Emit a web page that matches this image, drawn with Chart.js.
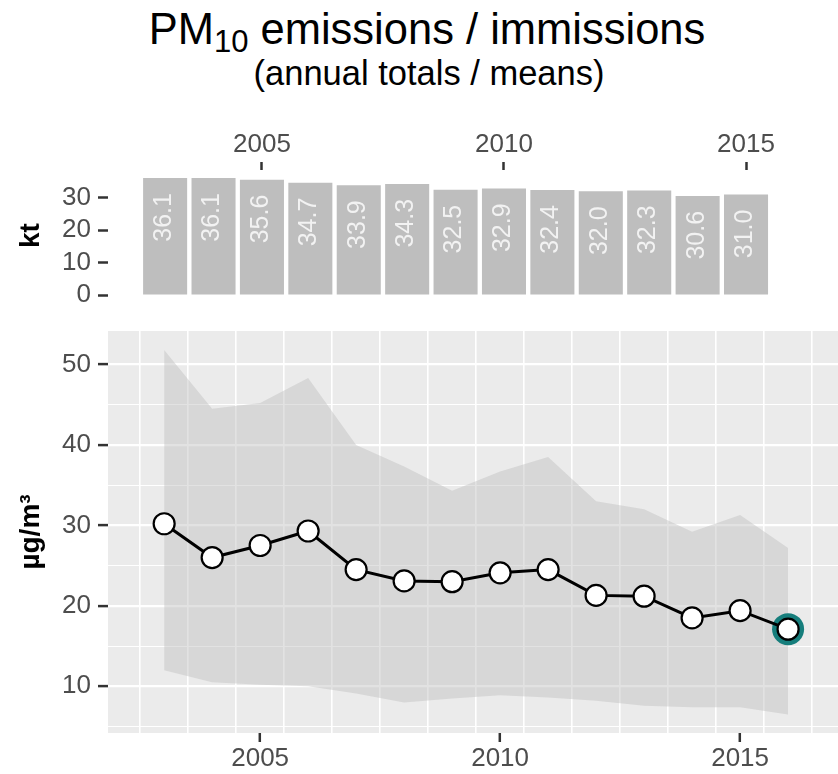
<!DOCTYPE html>
<html>
<head>
<meta charset="utf-8">
<title>PM10 emissions / immissions</title>
<script src="https://cdn.jsdelivr.net/npm/chart.js@4.4.1/dist/chart.umd.min.js"></script>
<style>
  html, body { margin: 0; padding: 0; background: #fff; overflow: hidden; }
  body { width: 838px; height: 774px; position: relative; font-family: 'Liberation Sans', Arial, Helvetica, sans-serif; }
  #title { position: absolute; left: 8px; top: 8px; width: 838px; text-align: center; font-size: 43.5px; line-height: 1; color: #000; white-space: nowrap; }
  #title sub { font-size: 31px; vertical-align: baseline; position: relative; top: 8px; }
  #subtitle { position: absolute; left: 10px; top: 56px; width: 838px; text-align: center; font-size: 34.5px; line-height: 34px; color: #000; white-space: nowrap; }
  canvas { position: absolute; left: 0; }
  #emis { top: 110px; }
  #imm { top: 300px; }
</style>
</head>
<body>
<div id="title">PM<sub>10</sub> emissions / immissions</div>
<div id="subtitle">(annual totals / means)</div>
<canvas id="emis" width="838" height="200"></canvas>
<canvas id="imm" width="838" height="474"></canvas>
<script>
const FONT = "'Liberation Sans', Arial, Helvetica, sans-serif";
const TICK_TEXT = '#4D4D4D';
const TICK_MARK = '#333333';

// emissions, annual totals (kt)
const emisYears = [2003, 2004, 2005, 2006, 2007, 2008, 2009, 2010, 2011, 2012, 2013, 2014, 2015];
const emisValues = [36.1, 36.1, 35.6, 34.7, 33.9, 34.3, 32.5, 32.9, 32.4, 32.0, 32.3, 30.6, 31.0];

// immissions, annual means (µg/m³) with station min / max
const immYears = [2003, 2004, 2005, 2006, 2007, 2008, 2009, 2010, 2011, 2012, 2013, 2014, 2015, 2016];
const immMean = [30.2, 26.0, 27.5, 29.3, 24.5, 23.1, 23.0, 24.1, 24.5, 21.3, 21.2, 18.5, 19.4, 17.1];
const immMax = [51.8, 44.5, 45.2, 48.3, 40.0, 37.3, 34.3, 36.7, 38.5, 33.0, 32.0, 29.2, 31.3, 27.2];
const immMin = [12.0, 10.5, 10.2, 10.0, 9.1, 8.0, 8.5, 8.9, 8.6, 8.2, 7.6, 7.4, 7.4, 6.5];

// axis ticks
const yearTicks = [2005, 2010, 2015];
const ktTicks = [0, 10, 20, 30];
const concTicks = [5, 10, 15, 20, 25, 30, 35, 40, 45, 50];
const yearGrid = [2002.5, 2003.5, 2004.5, 2005.5, 2006.5, 2007.5, 2008.5, 2009.5,
                  2010.5, 2011.5, 2012.5, 2013.5, 2014.5, 2015.5, 2016.5];

const tickFont = { family: FONT, size: 26 };
const titleFont = { family: FONT, size: 28, weight: 'bold' };

const toPoints = (xs, ys) => xs.map((x, i) => ({ x, y: ys[i] }));
const setTicks = (values) => (scale) => { scale.ticks = values.map((v) => ({ value: v })); };

// rotated value labels inside the bars
const barLabels = {
  id: 'barLabels',
  afterDatasetsDraw(chart) {
    const { ctx } = chart;
    const meta = chart.getDatasetMeta(0);
    meta.data.forEach((bar, i) => {
      ctx.save();
      ctx.translate(bar.x - 1, bar.y + 15);
      ctx.rotate(-Math.PI / 2);
      ctx.font = `25px ${FONT}`;
      ctx.fillStyle = '#F2F2F2';
      ctx.textAlign = 'right';
      ctx.textBaseline = 'middle';
      ctx.fillText(emisValues[i].toFixed(1), 0, 0);
      ctx.restore();
    });
  },
};

// ggplot style grey panel
const panelBg = {
  id: 'panelBg',
  beforeDraw(chart) {
    const { ctx, chartArea: a } = chart;
    ctx.save();
    ctx.fillStyle = '#EBEBEB';
    ctx.fillRect(a.left, a.top, a.right - a.left, a.bottom - a.top);
    ctx.restore();
  },
};

new Chart(document.getElementById('emis'), {
  type: 'bar',
  data: {
    datasets: [{
      data: toPoints(emisYears, emisValues),
      backgroundColor: '#BEBEBE',
      barPercentage: 0.91,
      categoryPercentage: 1,
    }],
  },
  options: {
    responsive: false,
    animation: false,
    layout: { autoPadding: false, padding: { left: 0, right: 0, top: 0, bottom: 9 } },
    plugins: { legend: { display: false }, tooltip: { enabled: false } },
    scales: {
      x: {
        type: 'linear',
        position: 'top',
        offset: false,
        min: 2001.82,
        max: 2016.9,
        afterBuildTicks: setTicks(yearTicks),
        afterFit: (s) => { s.height = 60; s.paddingLeft = 0; s.paddingRight = 0; },
        border: { display: false },
        grid: { offset: false, drawOnChartArea: false, tickColor: TICK_MARK, tickLength: 8, tickWidth: 2.5 },
        ticks: { color: TICK_TEXT, font: tickFont, padding: 2, autoSkip: false, maxRotation: 0, callback: (v) => String(v) },
      },
      y: {
        min: -1.85,
        max: 38.6,
        afterBuildTicks: setTicks(ktTicks),
        afterFit: (s) => { s.width = 108; s.paddingTop = 0; s.paddingBottom = 0; },
        border: { display: false },
        grid: { drawOnChartArea: false, tickColor: TICK_MARK, tickLength: 10, tickWidth: 2.5 },
        ticks: { color: TICK_TEXT, font: tickFont, padding: 7, callback: (v) => String(v) },
        title: { display: true, text: 'kt', color: '#000', font: titleFont, padding: { top: 14, bottom: 0 } },
      },
    },
  },
  plugins: [barLabels],
});

const lastIdx = immYears.length - 1;

new Chart(document.getElementById('imm'), {
  type: 'line',
  data: {
    datasets: [
      {
        label: 'mean',
        data: toPoints(immYears, immMean),
        borderColor: '#000',
        borderWidth: 3,
        pointRadius: 10.5,
        pointBorderWidth: 2.2,
        pointBackgroundColor: '#fff',
        pointBorderColor: '#000',
        fill: false,
        order: 0,
      },
      {
        label: 'latest',
        data: [{ x: immYears[lastIdx], y: immMean[lastIdx] }],
        showLine: false,
        pointRadius: 16,
        pointBorderWidth: 0,
        pointBackgroundColor: '#167E7C',
        order: 1,
      },
      {
        label: 'max',
        data: toPoints(immYears, immMax),
        borderWidth: 0,
        pointRadius: 0,
        backgroundColor: 'rgba(190,190,190,0.45)',
        fill: '+1',
        order: 2,
      },
      {
        label: 'min',
        data: toPoints(immYears, immMin),
        borderWidth: 0,
        pointRadius: 0,
        fill: false,
        order: 3,
      },
    ],
  },
  options: {
    responsive: false,
    animation: false,
    layout: { autoPadding: false, padding: { left: 0, right: 0, top: 31, bottom: 0 } },
    plugins: { legend: { display: false }, tooltip: { enabled: false } },
    scales: {
      x: {
        type: 'linear',
        min: 2001.83,
        max: 2017.04,
        afterBuildTicks: setTicks([...yearGrid, ...yearTicks].sort((a, b) => a - b)),
        afterFit: (s) => { s.height = 41; s.paddingLeft = 0; s.paddingRight = 0; },
        border: { display: false },
        grid: {
          color: (c) => (Number.isInteger(c.tick.value) ? 'transparent' : '#FFFFFF'),
          lineWidth: 1.6,
          tickColor: (c) => (Number.isInteger(c.tick.value) ? TICK_MARK : 'transparent'),
          tickLength: 9,
          tickWidth: 2.5,
        },
        ticks: {
          color: TICK_TEXT, font: tickFont, padding: 1, autoSkip: false, maxRotation: 0,
          callback: (v) => (Number.isInteger(v) ? String(v) : ''),
        },
      },
      y: {
        min: 4.2,
        max: 54.15,
        afterBuildTicks: setTicks(concTicks),
        afterFit: (s) => { s.width = 108; s.paddingTop = 0; s.paddingBottom = 0; },
        border: { display: false },
        grid: {
          color: '#FFFFFF',
          lineWidth: (c) => (c.tick.value % 10 === 0 ? 2.2 : 1.1),
          tickColor: (c) => (c.tick.value % 10 === 0 ? TICK_MARK : 'transparent'),
          tickLength: 10,
          tickWidth: 2.5,
        },
        ticks: { color: TICK_TEXT, font: tickFont, padding: 7, callback: (v) => (v % 10 === 0 ? String(v) : '') },
        title: { display: true, text: 'µg/m³', color: '#000', font: titleFont, padding: { top: 14, bottom: 0 } },
      },
    },
  },
  plugins: [panelBg],
});
</script>
</body>
</html>
